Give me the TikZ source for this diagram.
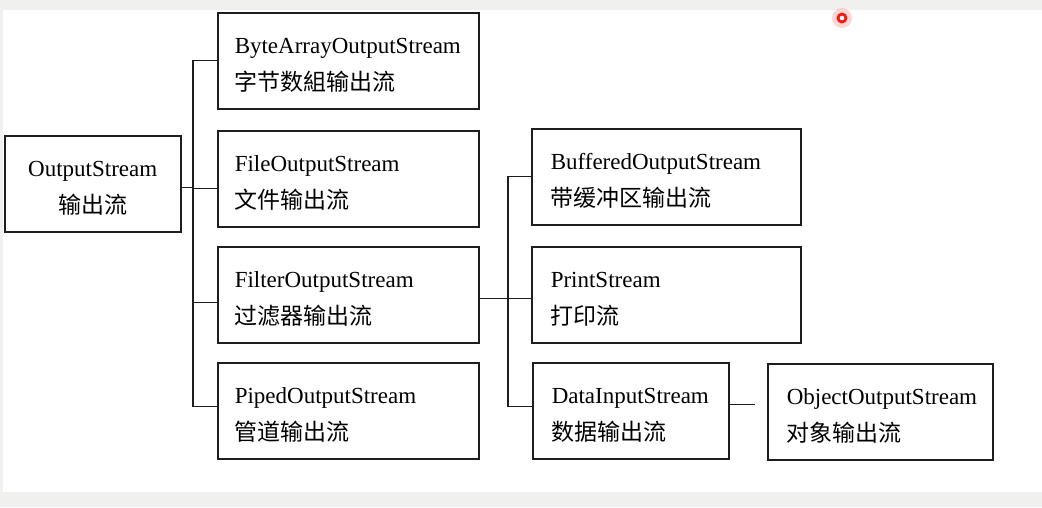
\documentclass[tikz,border=0pt]{standalone}
\usepackage{fontspec}
\setmainfont{Liberation Serif}
\newfontfamily\cjk{Noto Sans CJK SC}
\definecolor{pagegrey}{RGB}{240,240,239}
\definecolor{ink}{RGB}{30,30,30}
\definecolor{dotred}{RGB}{240,28,20}
\begin{document}
\begin{tikzpicture}[x=1pt, y=-1pt]
	\tikzstyle{every node}=[inner sep=0pt]
	\tikzstyle{cls}=[draw=ink, line width=1.5pt, anchor=north west, minimum height=96pt, inner xsep=19pt, align=left, font=\fontsize{23}{37}\selectfont, execute at begin node=\rule{0pt}{24pt}]
	\tikzstyle{link}=[draw=ink, line width=1.2pt]
	\useasboundingbox (0,0) rectangle (1042,507);
	\fill[pagegrey] (0,0) rectangle (1042,507);
	\fill[white] (3,10) rectangle (1042,492);
	\fill[dotred!30, opacity=0.6] (842,18) circle (10);
	\fill[dotred] (842,18) circle (5.5);
	\fill[white] (842,18) circle (2.3);
	\node[cls, inner xsep=18pt, text width=140pt, align=center] (OS) at (4,135) {OutputStream\\{\cjk 输出流}};
	\node[cls, inner xsep=17pt, text width=227pt] (BAOS) at (217,12) {ByteArrayOutputStream\\{\cjk 字节数組输出流}};
	\node[cls, inner xsep=17pt, text width=227pt] (FOS) at (217,130) {FileOutputStream\\{\cjk 文件输出流}};
	\node[cls, inner xsep=17pt, text width=227pt] (FiOS) at (217,246) {FilterOutputStream\\{\cjk 过滤器输出流}};
	\node[cls, inner xsep=17pt, text width=227pt] (POS) at (217,362) {PipedOutputStream\\{\cjk 管道输出流}};
	\node[cls, text width=231pt] (BOS) at (531,128) {BufferedOutputStream\\{\cjk 带缓冲区输出流}};
	\node[cls, text width=231pt] (PS) at (531,246) {PrintStream\\{\cjk 打印流}};
	\node[cls, text width=158pt] (DIS) at (532,362) {DataInputStream\\{\cjk 数据输出流}};
	\node[cls, text width=187pt] (OOS) at (767,363) {ObjectOutputStream\\{\cjk 对象输出流}};
	\coordinate (busL) at (193,0);
	\coordinate (busR) at (508,0);
	\coordinate (OSout) at ([yshift=-4pt]OS.east);
	\coordinate (FOSin) at ([yshift=-10pt]FOS.west);
	\coordinate (FiOSin) at ([yshift=-8pt]FiOS.west);
	\coordinate (POSin) at ([yshift=4pt]POS.west);
	\coordinate (FiOSout) at ([yshift=-4pt]FiOS.east);
	\coordinate (PSin) at ([yshift=-4pt]PS.west);
	\coordinate (DISin) at ([yshift=4pt]DIS.west);
	\coordinate (DISout) at ([yshift=6pt]DIS.east);
	\coordinate (OOSgap) at ([xshift=25pt]DISout);
	\draw[link] (OSout) -- (OSout -| busL);
	\draw[link] (BAOS.west) -- (BAOS.west -| busL) -- (POSin -| busL) -- (POSin);
	\draw[link] (FOSin -| busL) -- (FOSin);
	\draw[link] (FiOSin -| busL) -- (FiOSin);
	\draw[link] (FiOSout) -- (PSin);
	\draw[link] (BOS.west) -- (BOS.west -| busR) -- (DISin -| busR) -- (DISin);
	\draw[link] (DISout) -- (OOSgap);
\end{tikzpicture}
\end{document}
